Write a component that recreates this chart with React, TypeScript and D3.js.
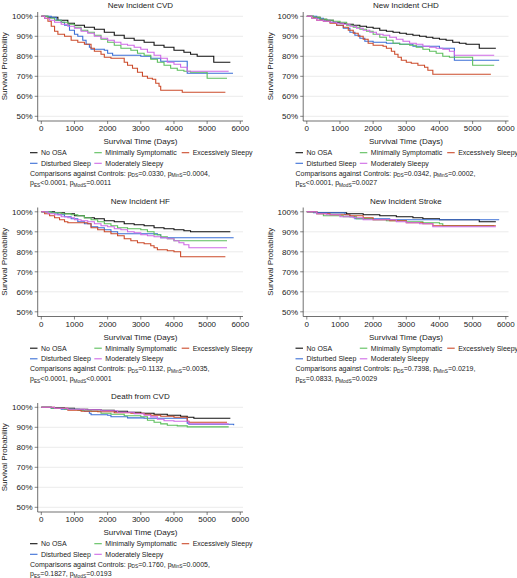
import React from "react";
import * as d3 from "d3";

type Pt = [number, number];

// ---------- categories ----------
const seriesNames = ["No OSA", "Disturbed Sleep", "Minimally Symptomatic", "Excessively Sleepy", "Moderately Sleepy"];
const seriesColors = ["#111111", "#3b6fd6", "#5cbf5c", "#cc4b2b", "#cf6ae6"];
const xTicks = [0, 1000, 2000, 3000, 4000, 5000, 6000];
const yTicks = [50, 60, 70, 80, 90, 100];
const panelTitles = ["New Incident CVD", "New Incident CHD", "New Incident HF", "New Incident Stroke", "Death from CVD"];

// p-values: DS, MinS, ES, ModS
const pCVD = ["=0.0330", "=0.0004", "<0.0001", "=0.0011"];
const pCHD = ["=0.0342", "=0.0002", "<0.0001", "=0.0027"];
const pHF = ["=0.1132", "=0.0035", "<0.0001", "<0.0001"];
const pStroke = ["=0.7398", "=0.0219", "=0.0833", "=0.0029"];
const pDeath = ["=0.1760", "=0.0005", "=0.1827", "=0.0193"];

// ---------- New Incident CVD ----------
const cvdNoOSA: Pt[] = [[0,100],[200,99.5],[500,98],[800,96.5],[1000,95.5],[1300,94.5],[1600,93.5],[1900,92],[2200,90.5],[2500,89],[2800,88],[3100,87],[3400,85.5],[3700,84.5],[4000,83],[4300,82],[4500,81],[4700,80],[5200,77],[5700,77]];
const cvdDS: Pt[] = [[0,100],[300,99.5],[450,98],[600,97],[700,95.5],[850,93],[1000,91],[1100,90],[1250,88],[1350,86],[1450,84.5],[1500,83.5],[1900,83],[2000,81.5],[2150,80.5],[3000,80],[3300,79],[3600,77.5],[4400,71.5],[5780,71.5]];
const cvdMinS: Pt[] = [[0,100],[200,99],[400,98],[600,97],[800,96],[1000,94.5],[1200,93],[1400,92],[1600,90.5],[1800,88.5],[2000,87],[2200,85.5],[2400,84],[2700,83],[2900,81.5],[3100,80.5],[3300,78.5],[3500,77],[3700,75.5],[3900,74],[4100,73],[4300,72.5],[4500,72],[5000,69],[5600,69]];
const cvdES: Pt[] = [[0,100],[100,99],[200,97.5],[300,95],[400,92.5],[500,91],[700,90],[900,88],[1100,87],[1300,86],[1500,84],[1600,82.5],[1800,81],[1900,79.5],[2100,79],[2500,77],[2600,75.5],[2750,74],[2900,72],[3050,70],[3200,69],[3350,68.5],[3450,66.5],[3550,65],[3600,63],[4250,62],[5550,62]];
const cvdModS: Pt[] = [[0,100],[100,99],[250,98],[400,97],[600,96],[800,95],[1000,94],[1200,92.5],[1400,91.5],[1600,90],[1800,89],[2000,88],[2200,87],[2400,86],[2600,85.5],[2800,84.5],[3000,83.5],[3200,82],[3400,80.5],[3600,79],[3800,77],[4000,76],[4200,74.5],[4400,72.5],[5650,72.5]];

// ---------- New Incident CHD ----------
const chdNoOSA: Pt[] = [[0,100],[200,99.5],[400,98.5],[600,98],[800,97],[1000,96.5],[1200,96],[1400,95.5],[1600,95],[1800,94.5],[2000,94],[2200,93],[2400,92.5],[2600,92],[2800,91.5],[3000,91],[3200,90.5],[3400,90],[3600,89.5],[3800,89],[4000,88.5],[4200,88],[4400,87],[4600,86.5],[4800,86],[5200,84],[5700,84]];
const chdDS: Pt[] = [[0,100],[300,99],[500,98],[700,97],[900,95.5],[1100,94],[1300,92],[1450,90.5],[1600,89],[1750,87.5],[2000,87],[2400,86.5],[2800,86],[3200,85],[4000,84],[4450,78],[5800,78]];
const chdMinS: Pt[] = [[0,100],[200,99.5],[400,98.5],[600,98],[800,97.5],[1000,97],[1200,95.5],[1400,94.5],[1600,93.5],[1800,92.5],[2000,91],[2200,89.5],[2400,88],[2600,86.5],[2800,86],[3100,85.5],[3300,84.5],[3500,83.5],[3700,82.5],[3900,81.5],[4100,80],[4300,79.5],[5000,75.5],[5650,75.5]];
const chdES: Pt[] = [[0,100],[150,99],[300,98],[500,97.5],[700,96.5],[900,95.5],[1100,94.5],[1250,93],[1400,91.5],[1550,90],[1700,88.5],[1850,86.5],[2000,85.5],[2300,85],[2400,84],[2550,82.5],[2650,81],[2750,79.5],[2850,78],[3000,77],[3150,76.5],[3350,75.5],[3550,74.5],[3650,73],[3800,71],[5550,71]];
const chdModS: Pt[] = [[0,100],[150,99],[300,98],[500,97.5],[700,97],[900,96.5],[1100,96],[1300,95],[1500,94],[1700,93],[1900,92],[2100,91],[2300,90.5],[2500,89.5],[2700,88.5],[2900,87.5],[3100,86.5],[3300,86],[3500,85],[3700,84.5],[3900,84],[4100,83.5],[4300,82.5],[4450,80.5],[5650,80.5]];

// ---------- New Incident HF ----------
const hfNoOSA: Pt[] = [[0,100],[400,99.5],[700,99],[1000,98],[1300,97],[1600,96.5],[1900,95.5],[2200,95],[2500,94],[2800,93.5],[3100,93],[3400,92],[3700,91.5],[4000,91],[4300,90.5],[4500,90],[5700,90]];
const hfDS: Pt[] = [[0,100],[300,99.5],[500,98.5],[700,97.5],[900,96.5],[1100,95],[1300,94],[1500,92.5],[1700,92],[1900,91],[2100,90],[2300,89],[3500,88.5],[3600,87],[5800,87]];
const hfMinS: Pt[] = [[0,100],[300,99.5],[600,99],[900,98.5],[1100,98],[1300,97],[1500,96],[1700,95],[1900,94],[2100,93],[2300,92],[2600,91.5],[3000,91],[3200,90],[3400,88.5],[3600,87.5],[3800,86.5],[4000,85.5],[5600,85.5]];
const hfES: Pt[] = [[0,100],[100,99],[250,98],[400,97],[550,96],[700,95],[800,94.5],[1400,94],[1500,92],[1700,91],[1900,90],[2100,89],[2300,88],[2500,86.5],[2700,85.5],[2900,84.5],[3100,84],[3300,83],[3400,82],[3500,81],[3800,80.5],[4000,80],[4200,77.5],[5550,77.5]];
const hfModS: Pt[] = [[0,100],[200,99],[400,98.5],[600,97.5],[800,97],[1000,96],[1200,95.5],[1400,95],[1600,94],[1800,93],[2000,92.5],[2200,91.5],[2400,91],[2600,90],[2800,89.5],[3000,88.5],[3200,88],[3400,87.5],[3600,87],[3800,86.5],[4000,85.5],[4150,84.5],[4300,83.5],[4450,82],[5600,82]];

// ---------- New Incident Stroke ----------
const strokeNoOSA: Pt[] = [[0,100],[300,99.5],[1200,99],[1700,98.5],[2200,98],[2700,97.5],[3200,97],[3500,96.5],[4000,96],[5200,95],[5700,95]];
const strokeDS: Pt[] = [[0,100],[200,99.5],[1150,98.5],[1300,97.5],[1450,96.5],[2500,96],[5800,96]];
const strokeMinS: Pt[] = [[0,100],[300,99],[500,98],[1100,97.5],[1500,96.5],[2000,96],[2400,95.5],[3000,95],[3500,94.5],[4000,94],[4100,93],[5650,93]];
const strokeES: Pt[] = [[0,100],[300,99],[700,98.5],[1300,98],[1700,97],[2000,96],[2500,95.5],[3000,94.5],[3500,94],[3800,93],[5700,93]];
const strokeModS: Pt[] = [[0,100],[300,99],[600,98.5],[1000,97.5],[1400,97],[1700,96],[2200,96],[2700,95],[3000,94.5],[3400,94],[3800,92.5],[5700,92.5]];

// ---------- Death from CVD ----------
const deathNoOSA: Pt[] = [[0,100],[300,99.8],[700,99.5],[1000,99],[1400,98.8],[1800,98.5],[2200,98],[2600,97.5],[3000,97],[3400,96.5],[3800,96],[4200,95.5],[4400,95],[4600,94.5],[5700,94.5]];
const deathDS: Pt[] = [[0,100],[300,99.5],[600,99],[1150,98.5],[1300,98],[1450,97],[1500,96.3],[2000,96],[2100,95.3],[2600,94.7],[3100,94.5],[4400,92],[4450,91.5],[5800,91]];
const deathMinS: Pt[] = [[0,100],[300,99.5],[700,99],[1100,98.5],[1500,98],[1800,97],[2100,96.5],[2500,95.8],[3000,95.3],[3200,93.5],[3400,92.5],[3600,91.7],[3800,91],[4100,90.7],[4400,90.2],[5650,90.2]];
const deathES: Pt[] = [[0,100],[400,99.5],[800,98.5],[1200,98],[1700,97.8],[2200,97.3],[2700,97],[3100,96.5],[3300,96],[3600,95.5],[4000,95],[4400,93],[4450,92.5],[5600,92.5]];
const deathModS: Pt[] = [[0,100],[400,99.5],[800,99],[1300,98.8],[1800,98.3],[2300,97.5],[2800,96.8],[3100,96],[3300,95.2],[3500,94],[3700,93.3],[4000,93],[4450,91.7],[5650,91.7]];

const panelSeries: Pt[][][] = [
  [cvdNoOSA, cvdDS, cvdMinS, cvdES, cvdModS],
  [chdNoOSA, chdDS, chdMinS, chdES, chdModS],
  [hfNoOSA, hfDS, hfMinS, hfES, hfModS],
  [strokeNoOSA, strokeDS, strokeMinS, strokeES, strokeModS],
  [deathNoOSA, deathDS, deathMinS, deathES, deathModS],
];
const panelP = [pCVD, pCHD, pHF, pStroke, pDeath];

const FONT = "'Liberation Sans', Arial, Helvetica, sans-serif";
const COL_X = [0, 265.5];
const ROW_Y = [0, 195.5, 391];

function Sub({ base, sub, val }: { base: string; sub: string; val: string }) {
  return (
    <>
      <tspan>{base}</tspan>
      <tspan dy={1.6} fontSize={4.8}>{sub}</tspan>
      <tspan dy={-1.6}>{val}</tspan>
    </>
  );
}

function Panel({ idx }: { idx: number }) {
  const ox = COL_X[idx % 2];
  const oy = ROW_Y[Math.floor(idx / 2)];
  const x = d3.scaleLinear().domain([0, 6000]).range([ox + 41.3, ox + 240.3]);
  const y = d3.scaleLinear().domain([50, 100]).range([oy + 116.3, oy + 16.3]);
  const line = d3.line<Pt>().x((d) => x(d[0])).y((d) => y(d[1])).curve(d3.curveStepAfter);
  const axL = ox + 37.7;
  const axR = ox + 243;
  const axB = oy + 121;
  const p = panelP[idx];
  const legendPos = [
    [ox + 30, oy + 152.7],
    [ox + 30, oy + 163.3],
    [ox + 94.3, oy + 152.7],
    [ox + 181.7, oy + 152.7],
    [ox + 94.3, oy + 163.3],
  ];
  return (
    <g fontFamily={FONT}>
      <text x={ox + 140.4} y={oy + 8.4} fontSize={8} textAnchor="middle" fill="#222">{panelTitles[idx]}</text>
      {yTicks.map((t) => (
        <g key={t}>
          <line x1={axL} x2={axR} y1={y(t)} y2={y(t)} stroke="#e6e6e6" strokeWidth={0.8} />
          <line x1={axL - 3} x2={axL} y1={y(t)} y2={y(t)} stroke="#333" strokeWidth={0.6} />
          <text x={ox + 32.5} y={y(t) + 2.9} fontSize={8} textAnchor="end" fill="#222">{t}%</text>
        </g>
      ))}
      <line x1={axL} x2={axL} y1={oy + 12} y2={axB} stroke="#333" strokeWidth={0.7} />
      <line x1={axL} x2={axR} y1={axB} y2={axB} stroke="#333" strokeWidth={0.7} />
      {xTicks.map((t) => (
        <g key={t}>
          <line x1={x(t)} x2={x(t)} y1={axB} y2={axB + 3} stroke="#333" strokeWidth={0.6} />
          <text x={x(t)} y={axB + 10.3} fontSize={8} textAnchor="middle" fill="#222">{t}</text>
        </g>
      ))}
      <text x={ox + 140.4} y={oy + 144} fontSize={8} textAnchor="middle" fill="#222">Survival Time (Days)</text>
      <text transform={`translate(${ox + 7.2},${oy + 66.3}) rotate(-90)`} fontSize={8} textAnchor="middle" fill="#222">Survival Probability</text>
      {panelSeries[idx].map((s, i) => (
        <path key={i} d={line(s) || ""} fill="none" stroke={seriesColors[i]} strokeWidth={1.1} />
      ))}
      {seriesNames.map((n, i) => (
        <g key={n}>
          <line x1={legendPos[i][0]} x2={legendPos[i][0] + 7.5} y1={legendPos[i][1]} y2={legendPos[i][1]} stroke={seriesColors[i]} strokeWidth={1.1} />
          <text x={legendPos[i][0] + 11} y={legendPos[i][1] + 2.4} fontSize={7} fill="#222">{n}</text>
        </g>
      ))}
      <text x={ox + 30} y={oy + 175.8} fontSize={7} fill="#222">
        <tspan>Comparisons against Controls: </tspan>
        <Sub base="p" sub="DS" val={p[0] + ", "} />
        <Sub base="p" sub="MinS" val={p[1] + ","} />
      </text>
      <text x={ox + 30} y={oy + 185.4} fontSize={7} fill="#222">
        <Sub base="p" sub="ES" val={p[2] + ", "} />
        <Sub base="p" sub="ModS" val={p[3]} />
      </text>
    </g>
  );
}

export default function App() {
  return (
    <svg width={517} height={578} style={{ position: "absolute", left: 0, top: 0, background: "#fff" }}>
      <rect width={517} height={578} fill="#fff" />
      {panelTitles.map((_, i) => (
        <Panel key={i} idx={i} />
      ))}
    </svg>
  );
}
